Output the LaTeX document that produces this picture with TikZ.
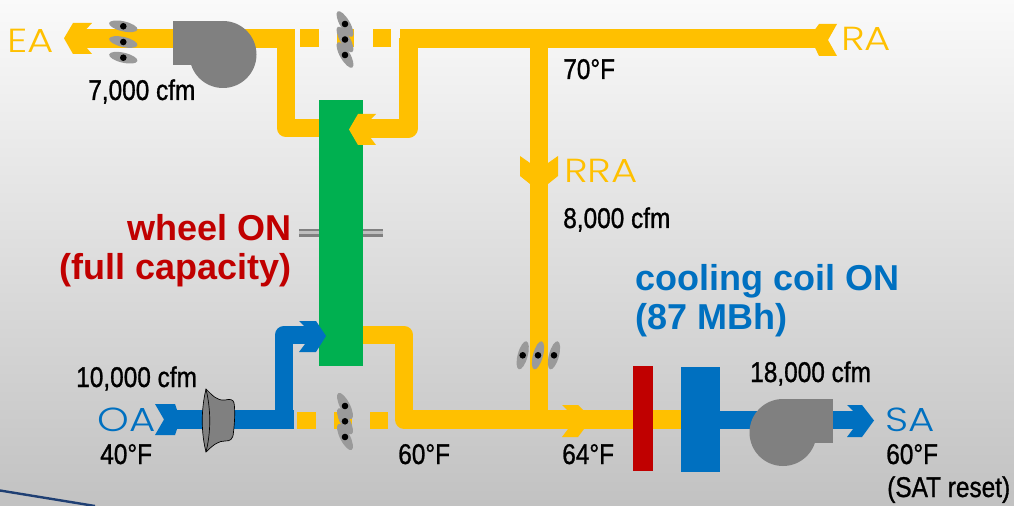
\documentclass[tikz,border=0pt]{standalone}
\usepackage{fontspec}
\setmainfont{Liberation Sans}
\newfontfamily\narrowfont[FakeStretch=0.855,FakeBold=1.0]{Liberation Sans}
\newfontfamily\airfont[FakeStretch=1.21]{Poppins Light}
\definecolor{ductY}{HTML}{FFC000}
\definecolor{ductB}{HTML}{0070C0}
\definecolor{wheelG}{HTML}{00B050}
\definecolor{heatR}{HTML}{C00000}
\definecolor{fanG}{HTML}{808080}
\definecolor{bladeG}{HTML}{9A9A9A}
\definecolor{frameB}{HTML}{1F3F73}
\newcommand{\blade}[3]{%
  \fill[bladeG,shift={(#1,#2)},rotate=#3] (0,0) ellipse [x radius=14.5,y radius=5];
  \fill[black] (#1,#2) circle [radius=3.3];}
\tikzset{
  ductline/.style={line width=14pt,line join=round,line cap=butt},
  yduct/.style={ductline,draw=ductY},
  bduct/.style={ductline,draw=ductB},
  block/.style={draw=none,inner sep=0pt,outer sep=0pt,anchor=north west},
  qty/.style={inner sep=0pt,anchor=base west,font=\narrowfont\fontsize{21.4}{24}\selectfont,text=black},
  air/.style={inner sep=0pt,anchor=base west,font=\airfont\fontsize{25}{28}\selectfont},
  status/.style={inner sep=0pt,font=\bfseries\fontsize{27}{29}\selectfont}
}
\begin{document}
\begin{tikzpicture}[x=0.75pt,y=-0.75pt]
\useasboundingbox (0,0) rectangle (1014,506);
\shade[top color=black!2,middle color=black!12,bottom color=black!24] (0,0) rectangle (1014,506);
\coordinate (frameA) at (0,490.5);
\coordinate (frameZ) at (95,506);
\draw[frameB,line width=1.8pt] (frameA) -- (frameZ);

% coordinates
\coordinate (eaEnd) at (80,38.3);
\coordinate (topL) at (295,38.3);
\coordinate (exTurn) at (286,128);
\coordinate (exIn) at (325,128);
\coordinate (topR) at (400,38.3);
\coordinate (raEnd) at (826,38.3);
\coordinate (rrTee) at (539,38.3);
\coordinate (rrBot) at (539,419.5);
\coordinate (raDrop) at (408.3,38.3);
\coordinate (raTurn) at (408.3,128.5);
\coordinate (raIn) at (365,128.5);
\coordinate (oaStart) at (170,419.5);
\coordinate (oaTurn) at (284,419.5);
\coordinate (oaEnd) at (284,335);
\coordinate (oaIn) at (310,335);
\coordinate (oaStop) at (293.6,419.5);
\coordinate (sTurnT) at (404,335);
\coordinate (sOut) at (360,335);
\coordinate (sTurnB) at (404,419.5);
\coordinate (coilIn) at (685,419.5);
\coordinate (coilOut) at (715,420);
\coordinate (saEnd) at (860,420);

% ducts
\draw[yduct] (eaEnd) -- (topL);
\draw[yduct] (exTurn |- topL) -- (exTurn) -- (exIn);
\draw[yduct] (topR) -- (raEnd);
\draw[yduct] (raDrop) -- (raTurn) -- (raIn);
\draw[yduct] (rrTee) -- (rrBot);
\draw[yduct] (sOut) -- (sTurnT) -- (sTurnB) -- (coilIn);
\draw[bduct] (oaStart) -- (oaStop);
\draw[bduct] (oaTurn) -- (oaEnd) -- (oaIn);
\draw[bduct] (coilOut) -- (saEnd);

% broken duct pieces
\fill[ductY] (300,29.5) rectangle (319,47);
\fill[ductY] (337,29.5) rectangle (354,47);
\fill[ductY] (373,29.5) rectangle (391,47);
\fill[ductY] (297,412) rectangle (316,429);
\fill[ductY] (334,412) rectangle (352,429);
\fill[ductY] (370,412) rectangle (388,429);

% wheel shaft and wheel
\fill[black!50] (299,229) rectangle (383,237);
\fill[black!25] (299,231) rectangle (383,234.5);
\node[block,fill=wheelG,minimum width=33pt,minimum height=199.5pt] (wheel) at (319,100) {};

% coils
\node[block,fill=heatR,minimum width=15pt,minimum height=78.75pt] (heat) at (633,366) {};
\node[block,fill=ductB,minimum width=29.25pt,minimum height=78.75pt] (cool) at (681,367) {};

% arrow heads
\fill[ductY] (64,38.3) -- (73,23) -- (92,23) -- (86,29.5) -- (86,47) -- (92,54) -- (73,54) -- cycle;
\fill[ductY] (837,24) -- (819,24) -- (815,29.5) -- (815,47.5) -- (819,56) -- (837,56) -- (828,40) -- cycle;
\fill[ductY] (520,156) -- (530,163) -- (548,163) -- (558,156) -- (558,176) -- (548,184) -- (530,184) -- (520,176) -- cycle;
\fill[ductY] (349,129.5) -- (358,114) -- (376,114) -- (370,120) -- (370,137) -- (376,145) -- (358,145) -- cycle;
\fill[ductY] (562,405) -- (578,405) -- (584,411) -- (584,429) -- (578,437) -- (562,437) -- (568,429) -- (568,411) -- cycle;
\fill[ductB] (155,404) -- (175,404) -- (177,410) -- (177,429) -- (175,435) -- (155,435) -- (164,419.5) -- cycle;
\fill[ductB] (299,321) -- (316,321) -- (326,336) -- (316,352) -- (299,352) -- (305,344) -- (305,327) -- cycle;
\fill[ductB] (847,405) -- (862,405) -- (874,420.5) -- (862,437) -- (847,437) -- (853,429) -- (853,411) -- cycle;

% dampers
\blade{123.3}{26.3}{-13}\blade{123.3}{42}{-13}\blade{123.3}{57.7}{-13}
\blade{345}{24}{-60}\blade{345}{39.5}{-60}\blade{345}{55}{-60}
\blade{345}{406}{-63}\blade{345}{421.3}{-63}\blade{345}{437}{-63}
\blade{522.7}{355.3}{75}\blade{538}{355.3}{75}\blade{554}{355.3}{75}

% fans
\fill[fanG] (223,54.5) circle [radius=33.5];
\fill[fanG] (173,21) rectangle (223,65);
\fill[fanG] (783,432.5) circle [radius=33.5];
\fill[fanG] (783,399) rectangle (833,443);
\draw[black,line width=0.5pt,fill=fanG] (206,389) .. controls (201,410) and (201,432) .. (206,452)
  .. controls (214,444) and (219,441) .. (225,441) .. controls (230,441) and (233,440) .. (233.5,432)
  .. controls (235,420) and (235,408) .. (234,403) .. controls (233,399) and (230,399) .. (225,400)
  .. controls (217,401) and (212,395) .. (206,389) -- cycle;
\draw[black,line width=0.5pt] (206,389) .. controls (211,410) and (211,432) .. (206,452);

% labels
\node[air,text=ductY] (lEA) at (7,52.7) {EA};
\node[air,text=ductY] (lRA) at (841,50.7) {RA};
\node[air,text=ductY] (lRRA) at (564,182.7) {RRA};
\node[air,text=ductB] (lOA) at (97,431.7) {OA};
\node[air,text=ductB] (lSA) at (885,431.7) {SA};
\node[qty] (q7) at (88,100) {7,000 cfm};
\node[qty] (q10) at (76,387) {10,000 cfm};
\node[qty] (q8) at (563,228) {8,000 cfm};
\node[qty] (q18) at (750,382) {18,000 cfm};
\node[qty] (t70) at (563,79) {70°F};
\node[qty] (t40) at (100,464) {40°F};
\node[qty] (t60a) at (398,464) {60°F};
\node[qty] (t64) at (562,464) {64°F};
\node[qty] (t60b) at (886,464) {60°F};
\node[qty] (sat) at (887,497) {(SAT reset)};
\node[status,text=heatR,anchor=base east] (w1) at (292,241) {wheel ON};
\node[status,text=heatR,anchor=base east] (w2) at (292,279) {(full capacity)};
\node[status,text=ductB,anchor=base west] (c1) at (635,290) {cooling coil ON};
\node[status,text=ductB,anchor=base west] (c2) at (635,329) {(87 MBh)};
\end{tikzpicture}
\end{document}
